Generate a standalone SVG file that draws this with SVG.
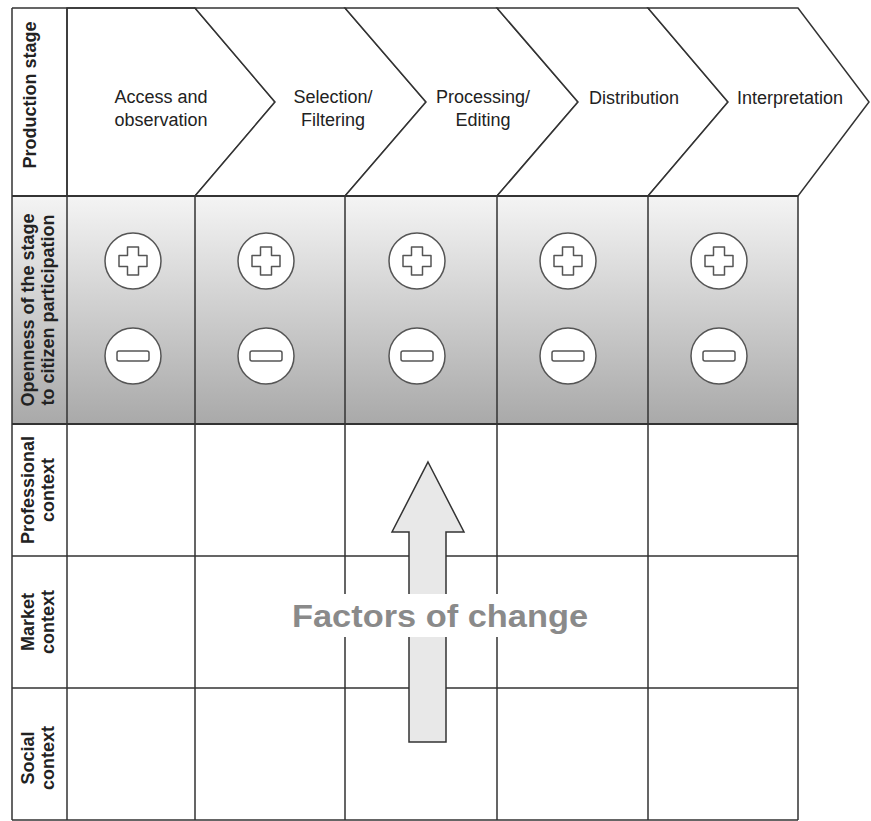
<svg xmlns="http://www.w3.org/2000/svg" width="871" height="821" viewBox="0 0 871 821">
<defs>
<linearGradient id="g" x1="0" y1="0" x2="0" y2="1">
<stop offset="0" stop-color="#f4f4f4"/>
<stop offset="1" stop-color="#a9a9a9"/>
</linearGradient>
<g id="plus"><circle r="28" fill="#fff" stroke="#555" stroke-width="1.5"/><path d="M-5.5,-14H5.5V-5.5H14V5.5H5.5V14H-5.5V5.5H-14V-5.5H-5.5Z" fill="#fff" stroke="#555" stroke-width="1.5" stroke-linejoin="round"/></g>
<g id="minus"><circle r="28" fill="#fff" stroke="#555" stroke-width="1.5"/><rect x="-16" y="-5" width="32" height="10" rx="2" fill="#fff" stroke="#555" stroke-width="1.5"/></g>
</defs>
<style>
.ln{stroke:#333;stroke-width:1.5;fill:none}
.chev{fill:#fff;stroke:#333;stroke-width:1.5;stroke-linejoin:miter}
.st{font-family:"Liberation Sans",Arial,sans-serif;font-size:18px;fill:#222;text-anchor:middle}
.lb{font-family:"Liberation Sans",Arial,sans-serif;font-size:18px;font-weight:bold;fill:#222;text-anchor:middle}
.fc{font-family:"Liberation Sans",Arial,sans-serif;font-size:32px;font-weight:bold;fill:#8a8a8a;text-anchor:middle}
</style>
<rect width="871" height="821" fill="#fff"/>
<!-- openness row background -->
<rect x="12" y="196" width="786" height="228" fill="url(#g)"/>

<g id="stages">
<g id="stage-access"><polygon class="chev" points="67,8 195,8 275,102 195,196 67,196"/><text class="st" x="161" y="103">Access and</text><text class="st" x="161" y="126">observation</text></g>
<g id="stage-selection"><polygon class="chev" points="195,8 345,8 426,102 345,196 195,196 275,102"/><text class="st" x="333" y="103">Selection/</text><text class="st" x="333" y="126">Filtering</text></g>
<g id="stage-processing"><polygon class="chev" points="345,8 497,8 578,102 497,196 345,196 426,102"/><text class="st" x="483" y="103">Processing/</text><text class="st" x="483" y="126">Editing</text></g>
<g id="stage-distribution"><polygon class="chev" points="497,8 648,8 728,102 648,196 497,196 578,102"/><text class="st" x="634" y="104">Distribution</text></g>
<g id="stage-interpretation"><polygon class="chev" points="648,8 798,8 869,102 798,196 648,196 728,102"/><text class="st" x="790" y="104">Interpretation</text></g>
</g>

<g id="grid">
<path class="ln" d="M12,8H195M12,196H798M12,424H798M12,556H798M12,688H798M12,820H798"/>
<path class="ln" d="M12,8V820M67,8V820M195,196V820M345,196V820M497,196V820M648,196V820M798,196V820"/>
<path d="M12,196H798M12,424H798" stroke="#333" stroke-width="2"/>
</g>

<g id="row-labels">
<g id="label-production"><text class="lb" transform="translate(36,95) rotate(-90)">Production stage</text></g>
<g id="label-openness"><text class="lb" transform="translate(34,310) rotate(-90)">Openness of the stage</text><text class="lb" transform="translate(54,310) rotate(-90)">to citizen participation</text></g>
<g id="label-professional"><text class="lb" transform="translate(34,490) rotate(-90)">Professional</text><text class="lb" transform="translate(54,490) rotate(-90)">context</text></g>
<g id="label-market"><text class="lb" transform="translate(34,622) rotate(-90)">Market</text><text class="lb" transform="translate(54,622) rotate(-90)">context</text></g>
<g id="label-social"><text class="lb" transform="translate(34,758) rotate(-90)">Social</text><text class="lb" transform="translate(54,758) rotate(-90)">context</text></g>
</g>

<g id="openness-icons">
<use href="#plus" x="133" y="261"/><use href="#minus" x="133" y="356"/>
<use href="#plus" x="266" y="261"/><use href="#minus" x="266" y="356"/>
<use href="#plus" x="417" y="261"/><use href="#minus" x="417" y="356"/>
<use href="#plus" x="568" y="261"/><use href="#minus" x="568" y="356"/>
<use href="#plus" x="719" y="261"/><use href="#minus" x="719" y="356"/>
</g>

<g id="factors-of-change">
<polygon points="428,462 464,532 446,532 446,742 409,742 409,532 392,532" fill="#e8e8e8" stroke="#333" stroke-width="1.5" stroke-linejoin="miter"/>
<rect x="288" y="594" width="305" height="43" fill="#fff"/>
<text class="fc" x="440" y="627" textLength="296" lengthAdjust="spacingAndGlyphs">Factors of change</text>
</g>
</svg>
